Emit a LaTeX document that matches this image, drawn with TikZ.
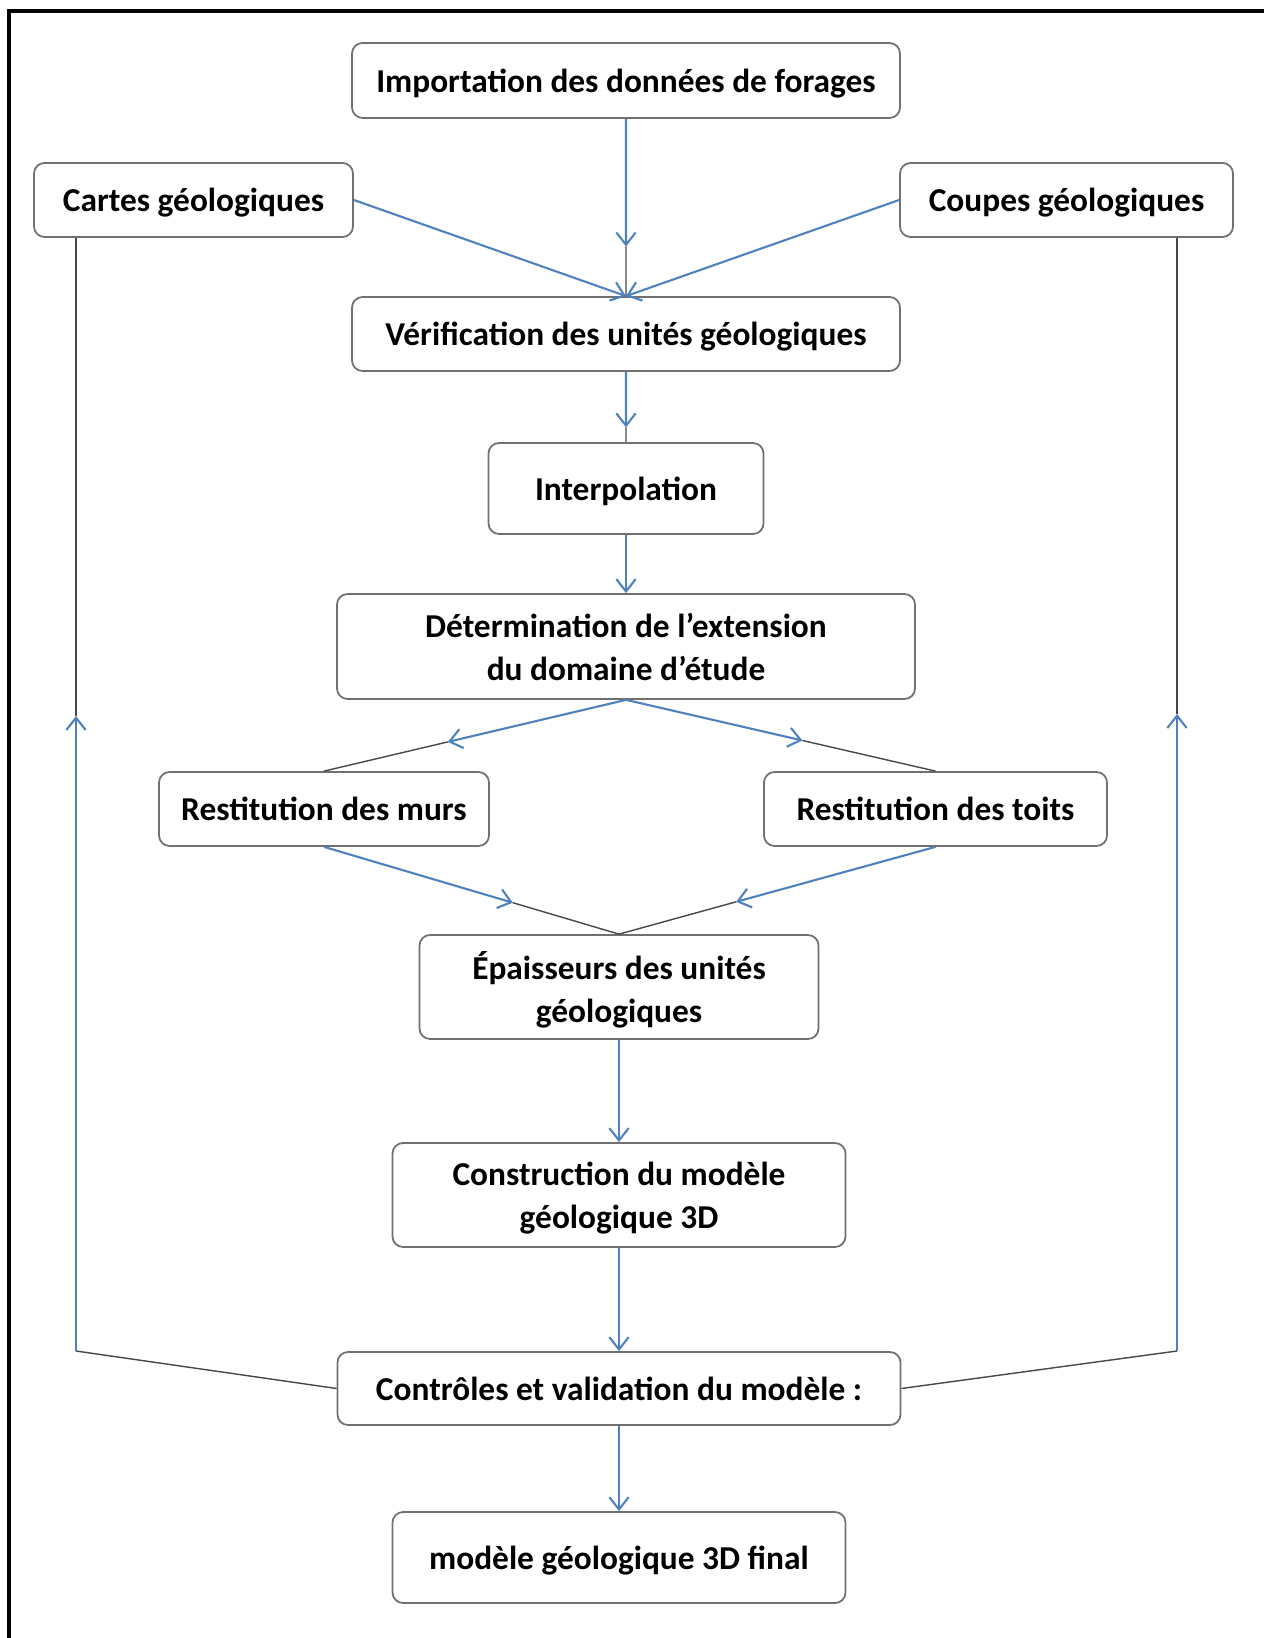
\documentclass[tikz,border=0pt]{standalone}
\usepackage{fontspec}
\setmainfont{Carlito}
\usetikzlibrary{arrows.meta,calc}
\definecolor{bleu}{RGB}{79,129,189}
\definecolor{trait}{RGB}{72,72,72}
\definecolor{bord}{RGB}{112,112,112}

\begin{document}
\begin{tikzpicture}[>={Straight Barb[length=3.5pt,width=5.5pt]},
    etape/.style={shape=rectangle,rounded corners=3pt,draw=bord,line width=0.5pt,fill=white,align=center,text depth=0pt,font=\fontsize{9.5}{12.2}\selectfont\bfseries},
    fleche/.style={->,color=bleu,line width=0.6pt},
    lien/.style={color=trait,line width=0.4pt}]
      \useasboundingbox (0,0) rectangle (12.64,-16.38);
      \draw[line width=1.1pt] (0.09,-16.38) -- (0.09,-0.11) -- (12.64,-0.11);

      \node[etape,minimum width=5.48cm,minimum height=0.75cm] (0) at (6.26,-0.805) {Importation des données de forages};
      \node[etape,minimum width=3.19cm,minimum height=0.74cm] (1) at (1.935,-2.00) {Cartes géologiques};
      \node[etape,minimum width=3.33cm,minimum height=0.74cm] (2) at (10.665,-2.00) {Coupes géologiques};
      \node[etape,minimum width=5.48cm,minimum height=0.74cm] (3) at (6.26,-3.34) {Vérification des unités géologiques};
      \node[etape,minimum width=2.75cm,minimum height=0.91cm] (4) at (6.26,-4.885) {Interpolation};
      \node[etape,minimum width=5.78cm,minimum height=1.05cm] (5) at (6.26,-6.465) {Détermination de l’extension\\du domaine d’étude};
      \node[etape,minimum width=3.30cm,minimum height=0.74cm] (6) at (3.24,-8.09) {Restitution des murs};
      \node[etape,minimum width=3.43cm,minimum height=0.74cm] (7) at (9.355,-8.09) {Restitution des toits};
      \node[etape,minimum width=3.99cm,minimum height=1.04cm] (8) at (6.19,-9.87) {Épaisseurs des unités\\géologiques};
      \node[etape,minimum width=4.53cm,minimum height=1.04cm] (9) at (6.19,-11.95) {Construction du modèle\\géologique 3D};
      \node[etape,minimum width=5.63cm,minimum height=0.73cm] (10) at (6.19,-13.885) {Contrôles et validation du modèle :};
      \node[etape,minimum width=4.53cm,minimum height=0.91cm] (11) at (6.19,-15.575) {modèle géologique 3D final};

      \coordinate (t0) at ($(0.south)!0.72!(3.north)$);
      \coordinate (t1) at ($(3.south)!0.79!(4.north)$);
      \coordinate (t2) at ($(5.south)!0.59!(6.north)$);
      \coordinate (t3) at ($(5.south)!0.57!(7.north)$);
      \coordinate (t4) at ($(6.south)!0.64!(8.north)$);
      \coordinate (t5) at ($(7.south)!0.63!(8.north)$);
      \coordinate (c1) at (0.76,-13.51);
      \coordinate (c2) at (11.77,-13.51);
      \coordinate (t6) at (0.76,-7.16);
      \coordinate (t7) at (11.77,-7.14);

      \path [fleche](0.south) edge (t0) ;
      \path [lien](t0) edge (3.north) ;
      \path [fleche](1.east) edge (3.north) ;
      \path [fleche](2.west) edge (3.north) ;
      \path [fleche](3.south) edge (t1) ;
      \path [lien](t1) edge (4.north) ;
      \path [fleche](4.south) edge (5.north) ;
      \path [fleche](5.south) edge (t2) ;
      \path [lien](t2) edge (6.north) ;
      \path [fleche](5.south) edge (t3) ;
      \path [lien](t3) edge (7.north) ;
      \path [fleche](6.south) edge (t4) ;
      \path [lien](t4) edge (8.north) ;
      \path [fleche](7.south) edge (t5) ;
      \path [lien](t5) edge (8.north) ;
      \path [fleche](8.south) edge (9.north) ;
      \path [fleche](9.south) edge (10.north) ;
      \path [fleche](10.south) edge (11.north) ;
      \path [lien](10.west) edge (c1) ;
      \path [fleche](c1) edge (t6) ;
      \path [lien](t6) edge (c1 |- 1.south) ;
      \path [lien](10.east) edge (c2) ;
      \path [fleche](c2) edge (t7) ;
      \path [lien](t7) edge (c2 |- 2.south) ;

    \end{tikzpicture}
\end{document}
